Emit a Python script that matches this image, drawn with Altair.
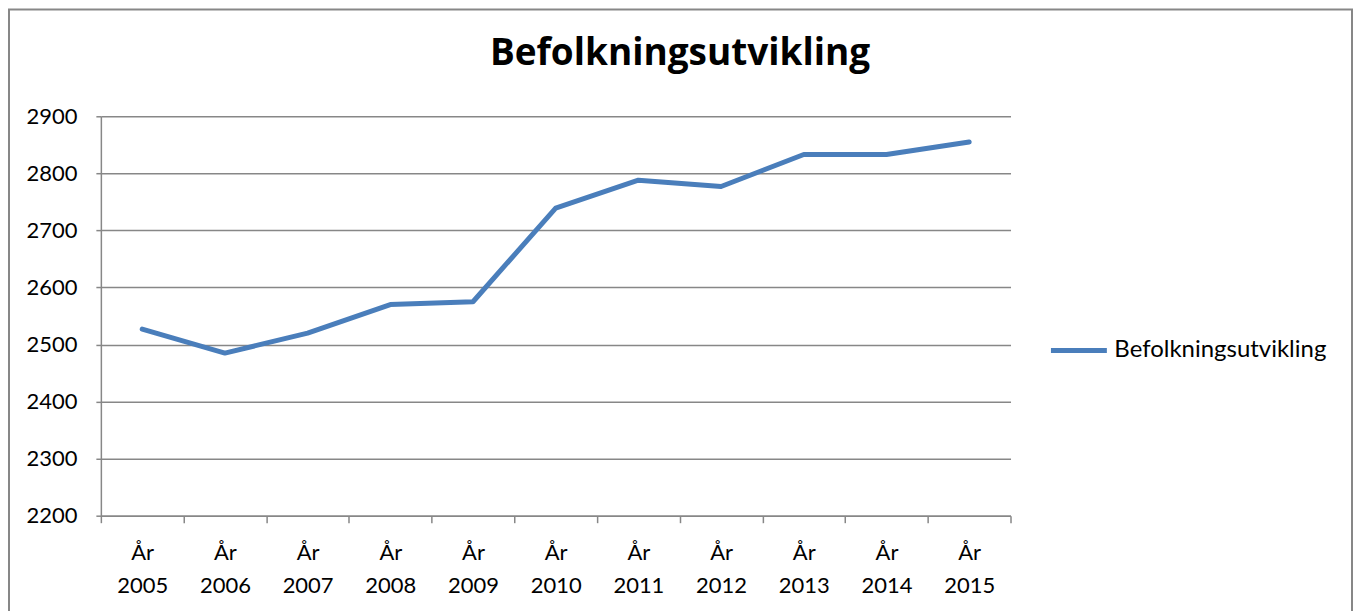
import altair as alt
import pandas as pd

years = ["2005", "2006", "2007", "2008", "2009", "2010", "2011", "2012", "2013", "2014", "2015"]
values = [2527, 2485, 2520, 2570, 2575, 2739, 2788, 2777, 2833, 2833, 2855]
series_name = "Befolkningsutvikling"
chart_title = "Befolkningsutvikling"
y_ticks = [2200, 2300, 2400, 2500, 2600, 2700, 2800, 2900]

labels = ["År " + y for y in years]
df = pd.DataFrame({"label": labels, "value": values, "series": [series_name] * len(years)})
title_df = pd.DataFrame({"t": [chart_title]})

FONT = "Lato"
GRAY = "#878787"
BLUE = "#4A7EBB"

line = alt.Chart(df).mark_line(strokeWidth=5, strokeCap="round", strokeJoin="round").encode(
    x=alt.X(
        "label:N",
        sort=labels,
        bandPosition=0.5,
        scale=alt.Scale(type="band", paddingInner=0, paddingOuter=0),
        title=None,
        axis=alt.Axis(
            tickBand="extent",
            labelExpr="split(datum.label, ' ')",
            labelAngle=0,
            labelBaseline="top",
            labelLineHeight=33,
            labelPadding=20,
            tickSize=7,
            tickColor=GRAY,
            tickWidth=1.5,
            domainColor=GRAY,
            domainWidth=1.5,
            labelFont=FONT,
            labelFontSize=22,
            labelColor="black",
            grid=False,
        ),
    ),
    y=alt.Y(
        "value:Q",
        scale=alt.Scale(domain=[2200, 2900], nice=False, zero=False),
        title=None,
        axis=alt.Axis(
            values=y_ticks,
            format="d",
            tickSize=5,
            tickColor=GRAY,
            tickWidth=1.5,
            domainColor=GRAY,
            domainWidth=1.5,
            gridColor=GRAY,
            gridWidth=1.5,
            labelPadding=19,
            labelFont=FONT,
            labelFontSize=22,
            labelColor="black",
        ),
    ),
    color=alt.Color(
        "series:N",
        scale=alt.Scale(range=[BLUE]),
        title=None,
        legend=alt.Legend(
            orient="none",
            legendX=949,
            legendY=204,
            padding=0,
            symbolType="stroke",
            symbolSize=3136,
            symbolStrokeWidth=5,
            labelOffset=5,
            labelLimit=500,
            labelFont=FONT,
            labelFontSize=24,
            labelColor="black",
        ),
    ),
)

frame = alt.Chart(title_df).mark_rect(fill=None, stroke=GRAY, strokeWidth=2).encode(
    x=alt.value(-92), x2=alt.value(1253), y=alt.value(-107), y2=alt.value(600)
)

title_text = alt.Chart(title_df).mark_text(
    font="Open Sans", fontSize=37, fontWeight="bold", color="black", align="center", baseline="alphabetic"
).encode(text="t:N", x=alt.value(580), y=alt.value(-51))

chart = alt.layer(frame, title_text, line).properties(
    width=911,
    height=400,
    autosize=alt.AutoSizeParams(type="none"),
    padding={"left": 93, "top": 108, "right": 344, "bottom": 95},
).configure_view(stroke=None)

chart.save("out.html", embed_options={"renderer": "svg", "actions": False})
